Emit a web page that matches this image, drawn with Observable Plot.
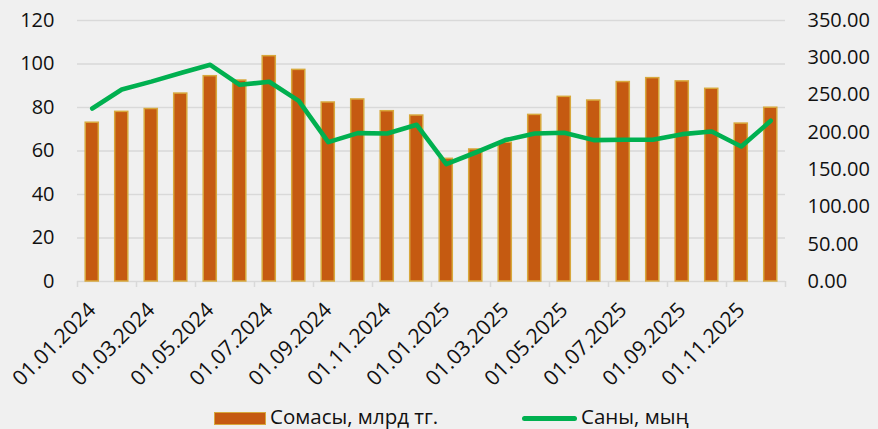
<!DOCTYPE html>
<html>
<head>
<meta charset="utf-8">
<script src="https://cdn.jsdelivr.net/npm/d3@7"></script>
<script src="https://cdn.jsdelivr.net/npm/@observablehq/plot@0.6"></script>
<style>
  html, body { margin: 0; padding: 0; background: #F0F0F0; }
  #wrap { position: relative; width: 878px; height: 429px; overflow: hidden; font-family: "Open Sans", sans-serif; color: #111; }
  #legend { position: absolute; left: 0; top: 400px; width: 878px; height: 29px; font-size: 20.5px; }
  .sw-bar { position: absolute; left: 214px; top: 12px; width: 50px; height: 11px; background: #C55A11; border: 1.5px solid #D8A83C; }
  .sw-line { position: absolute; left: 522px; top: 16px; width: 55px; height: 5px; background: #00B050; border-radius: 2.5px; }
  .lab { position: absolute; top: 3px; line-height: 27px; white-space: nowrap; }
</style>
</head>
<body>
<div id="wrap">
  <div id="chart"></div>
  <div id="legend">
    <div class="sw-bar"></div><div class="lab" style="left:270px">Сомасы, млрд тг.</div>
    <div class="sw-line"></div><div class="lab" style="left:581px">Саны, мың</div>
  </div>
</div>
<script>
const dates = ["01.01.2024","01.02.2024","01.03.2024","01.04.2024","01.05.2024","01.06.2024",
  "01.07.2024","01.08.2024","01.09.2024","01.10.2024","01.11.2024","01.12.2024",
  "01.01.2025","01.02.2025","01.03.2025","01.04.2025","01.05.2025","01.06.2025",
  "01.07.2025","01.08.2025","01.09.2025","01.10.2025","01.11.2025","01.12.2025"];
const amount = [73, 78, 79.3, 86.4, 94.4, 92.4, 103.6, 97.3, 82.3, 83.7, 78.3, 76.3,
  56.4, 60.7, 63.8, 76.6, 84.9, 83.2, 91.7, 93.5, 92, 88.6, 72.6, 79.9];
const count = [232, 257.5, 268, 279.5, 290.6, 263.8, 267.8, 242.3, 186.9, 199, 198.5, 210.1,
  157.4, 173, 189.6, 198.5, 199.4, 189.6, 190, 190, 197.6, 201.2, 181, 215.5];
const leftTicks = [0, 20, 40, 60, 80, 100, 120];
const rightTicks = [0, 50, 100, 150, 200, 250, 300, 350];
const leftMax = 120, rightMax = 350;

const data = dates.map((d, i) => ({i, date: d, amount: amount[i], count: count[i]}));
const k = leftMax / rightMax;
const labelIdx = d3.range(0, dates.length, 2);

const chart = Plot.plot({
  width: 878, height: 400,
  marginLeft: 77, marginRight: 93, marginTop: 20, marginBottom: 119,
  style: {background: "#F0F0F0", fontFamily: "'Open Sans', sans-serif", fontSize: "20px", color: "#111", overflow: "visible"},
  x: {domain: [0, dates.length], axis: null},
  y: {domain: [0, leftMax], axis: null},
  marks: [
    Plot.ruleY(leftTicks, {stroke: "#D9D9D9", strokeWidth: 1.5}),
    Plot.rectY(data, {x1: d => d.i, x2: d => d.i + 1, y: "amount", insetLeft: 8.2, insetRight: 8.2,
      fill: "#C55A11", stroke: "#D8A83C", strokeWidth: 1.5}),
    Plot.line(data, {x: d => d.i + 0.5, y: d => d.count * k, stroke: "#00B050", strokeWidth: 4.6,
      strokeLinejoin: "round", strokeLinecap: "round"}),
    Plot.axisY({ticks: leftTicks, anchor: "left", tickSize: 0, tickPadding: 23, label: null}),
    Plot.axisY({ticks: rightTicks.map(v => v * k), anchor: "right", tickSize: 0, tickPadding: 22,
      tickFormat: d => (d / k).toFixed(2), label: null, textAnchor: "start"}),
    Plot.axisX({ticks: d3.range(0, dates.length + 1, 2), anchor: "bottom", tickSize: 6, tickFormat: () => "",
      stroke: "#D9D9D9", strokeWidth: 1.5, label: null}),
    Plot.axisX({ticks: labelIdx.map(i => i + 0.5), anchor: "bottom", tickSize: 0, tickPadding: 25,
      tickRotate: -45, fontSize: 21, tickFormat: d => dates[Math.round(d - 0.5)], label: null})
  ]
});
document.getElementById("chart").appendChild(chart);
</script>
</body>
</html>
